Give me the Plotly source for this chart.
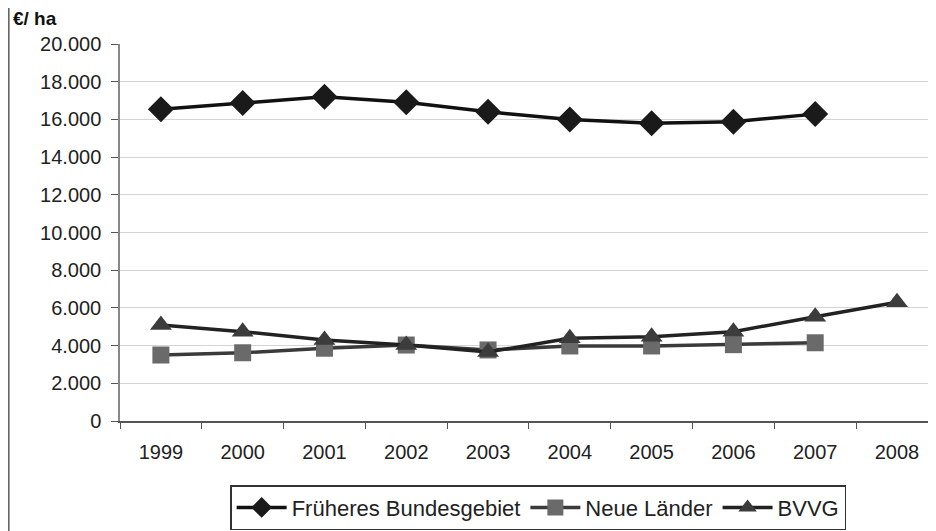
import plotly.graph_objects as go

years = ["1999", "2000", "2001", "2002", "2003", "2004", "2005", "2006", "2007", "2008"]
frueheres = [16540, 16870, 17200, 16910, 16400, 15990, 15790, 15880, 16280, None]
neue_laender = [3500, 3620, 3860, 4030, 3770, 3980, 3980, 4050, 4150, None]
bvvg = [5090, 4740, 4300, 4030, 3660, 4390, 4470, 4740, 5530, 6300]
y_ticks = [0, 2000, 4000, 6000, 8000, 10000, 12000, 14000, 16000, 18000, 20000]
y_tick_labels = ["0", "2.000", "4.000", "6.000", "8.000", "10.000", "12.000", "14.000", "16.000", "18.000", "20.000"]

font = "Liberation Sans, Arial, sans-serif"
fs = 20

fig = go.Figure()
fig.add_trace(go.Scatter(x=years, y=frueheres, name="Früheres Bundesgebiet", mode="lines+markers",
                         line=dict(color="#111111", width=3.5),
                         marker=dict(symbol="diamond", size=20, color="#1a1a1a")))
fig.add_trace(go.Scatter(x=years, y=neue_laender, name="Neue Länder", mode="lines+markers",
                         line=dict(color="#3a3a3a", width=3.5),
                         marker=dict(symbol="square", size=17, color="#6a6a6a")))
fig.add_trace(go.Scatter(x=years, y=bvvg, name="BVVG", mode="lines+markers",
                         line=dict(color="#222222", width=3.5),
                         marker=dict(symbol="triangle-up", size=19, color="#3c3c3c")))

fig.update_layout(
    width=928, height=523,
    margin=dict(l=112, r=0, t=36, b=110),
    paper_bgcolor="white", plot_bgcolor="white",
    font=dict(family=font, size=fs, color="#222222"),
    showlegend=True,
    legend=dict(orientation="h", x=0.135, y=-0.17, xanchor="left", yanchor="top",
                bordercolor="#333333", borderwidth=1.5, bgcolor="white",
                font=dict(size=22, family=font, color="#222222"),
                itemwidth=50, tracegroupgap=0),
    xaxis=dict(type="category", categoryorder="array", categoryarray=years,
               range=[-0.5, 9.477], showgrid=False, showline=True, linecolor="#555555",
               linewidth=1.5, ticks="outside", tickson="boundaries", ticklen=6,
               tickcolor="#555555", tickfont=dict(size=fs, family=font, color="#222222"),
               ticklabelstandoff=12, zeroline=False),
    yaxis=dict(range=[0, 20000], tickvals=y_ticks, ticktext=y_tick_labels,
               showgrid=True, gridcolor="#d4d4d4", gridwidth=1, showline=True,
               linecolor="#888888", linewidth=1.5, ticks="outside", ticklen=7,
               tickcolor="#555555", tickfont=dict(size=fs, family=font, color="#222222"),
               ticklabelstandoff=6, zeroline=False),
)

fig.add_annotation(text="<b>€/ ha</b>", xref="paper", yref="paper", x=-0.133, y=1.068,
                   xanchor="left", yanchor="middle", showarrow=False,
                   font=dict(size=19, family=font, color="#111111"))

# scanned frame line at the left edge
fig.add_shape(type="line", xref="paper", yref="paper", x0=-0.1365, x1=-0.1365, y0=-0.3, y1=1.2,
              line=dict(color="#666666", width=2))

fig.write_html("out.html")
